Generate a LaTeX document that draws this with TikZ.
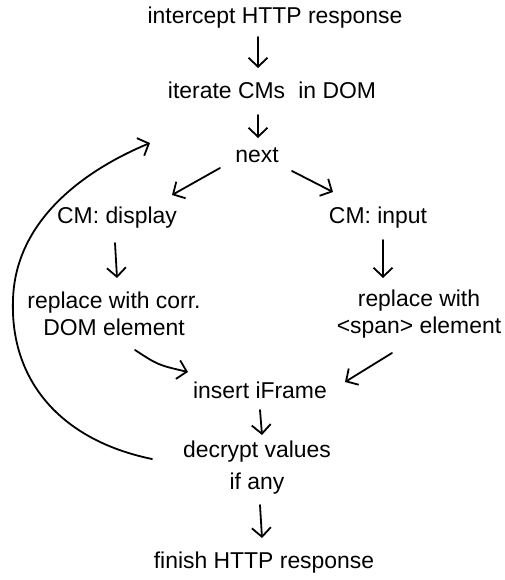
\documentclass[tikz,border=0pt]{standalone}
\usepackage{fontspec}
\setmainfont{Liberation Sans}
\usetikzlibrary{arrows.meta}
\begin{document}
\begin{tikzpicture}[x=1bp,y=-1bp,
  lbl/.style={font=\fontsize{23}{27}\selectfont, inner sep=0pt, align=center},
  arr/.style={line width=1.8bp, line cap=round, line join=round,
              -{Straight Barb[length=9bp,width=19bp]}}]
\useasboundingbox (0,0) rectangle (505,580);

% steps of the flow
\node[lbl] (intercept) at (275,18)  {intercept HTTP response};
\node[lbl] (iterate)   at (272,90)  {iterate CMs\hspace{0.3em} in DOM};
\node[lbl] (next)      at (257,155) {next};
\node[lbl] (disp)      at (117,218) {CM: display};
\node[lbl] (input)     at (378,218) {CM: input};
\node[lbl] (repl1)     at (114,314) {replace with corr.\\DOM element};
\node[lbl] (repl2)     at (419,314) {replace with\\<span> element};
\node[lbl] (insert)    at (260,390) {insert iFrame};
\node[lbl, font=\fontsize{23}{32}\selectfont] (decrypt) at (257,468) {decrypt values\\if any};
\node[lbl] (finish)    at (264,563) {finish HTTP response};

% connectors
\draw[arr] ([shift={(-17,19)}]intercept.center) -- ([shift={(-14,-22)}]iterate.center);
\draw[arr] ([shift={(-14,25)}]iterate.center)   -- ([shift={(1,-17)}]next.center);
\draw[arr] ([shift={(-37,13)}]next.center)      -- ([shift={(55,-23)}]disp.center);
\draw[arr] ([shift={(35,16)}]next.center)       -- ([shift={(-45,-26)}]input.center);
\draw[arr] ([shift={(-2,25)}]disp.center)       -- ([shift={(3,-36)}]repl1.center);
\draw[arr] ([shift={(5,22)}]input.center)       -- ([shift={(-36,-36)}]repl2.center);
\draw[arr] ([shift={(21,36)}]repl1.center) .. controls (158,365) .. ([shift={(-72,-18)}]insert.center);
\draw[arr] ([shift={(-27,39)}]repl2.center)     -- ([shift={(85,-8)}]insert.center);
\draw[arr] ([shift={(0,20)}]insert.center)      -- ([shift={(5,-33)}]decrypt.center);
\draw[arr] ([shift={(3,37)}]decrypt.center)     -- ([shift={(-2,-25)}]finish.center);

% loop back to the next element
\draw[arr] ([shift={(-105,-9)}]decrypt.center)
  .. controls (60,440) and (10,380) .. (13,300)
  .. controls (15,220) and (85,170) .. ([shift={(-107,-12)}]next.center);
\end{tikzpicture}
\end{document}
